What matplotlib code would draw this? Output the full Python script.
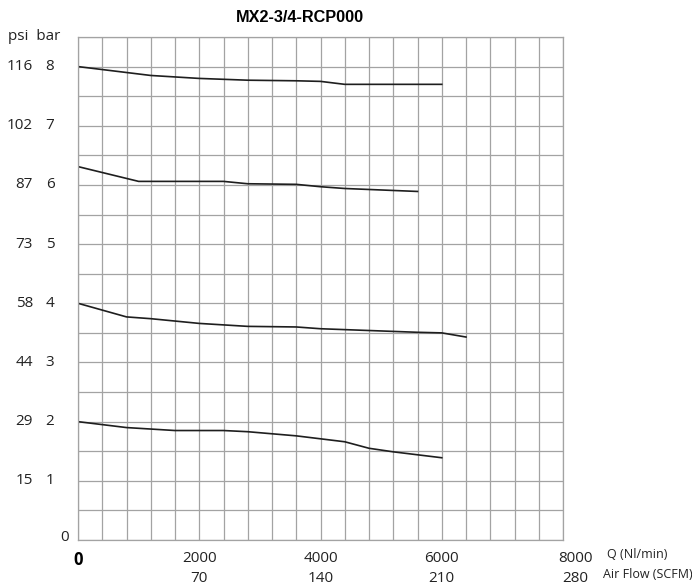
import numpy as np
import matplotlib.pyplot as plt
import matplotlib.transforms as mtransforms

# curves (Q in Nl/min, pressure in bar)
q_8 = [0, 800, 1200, 2000, 2800, 3600, 4000, 4400, 6000]
p_8 = [8.0, 7.9, 7.85, 7.80, 7.77, 7.76, 7.75, 7.70, 7.70]

q_6 = [0, 1000, 2400, 2800, 3600, 4000, 4400, 5600]
p_6 = [6.31, 6.06, 6.06, 6.02, 6.01, 5.97, 5.94, 5.89]

q_4 = [0, 800, 1200, 2000, 2800, 3600, 4000, 4800, 5600, 6000, 6400]
p_4 = [4.0, 3.77, 3.74, 3.66, 3.61, 3.60, 3.57, 3.54, 3.51, 3.50, 3.43]

q_2 = [0, 800, 1600, 2400, 2800, 3600, 4000, 4400, 4800, 5200, 6000]
p_2 = [2.0, 1.90, 1.85, 1.85, 1.83, 1.76, 1.71, 1.66, 1.55, 1.49, 1.39]

bar_ticks = [8, 7, 6, 5, 4, 3, 2, 1]
psi_ticks = ["116", "102", "87", "73", "58", "44", "29", "15"]
q_ticks = [2000, 4000, 6000, 8000]
scfm_ticks = ["70", "140", "210", "280"]

fig = plt.figure(figsize=(6.92, 5.87), dpi=100)
ax = fig.add_axes([78/692, 1-540/587, (563-78)/692, (540-37)/587])

ax.set_xlim(0, 8000)
ax.set_ylim(0, 8.5)
ax.set_xticks(np.arange(0, 8001, 400))
ax.set_yticks(np.arange(0, 8.51, 0.5))
ax.grid(True, color='#a3a3a3', linewidth=0.9)
ax.tick_params(length=0, labelbottom=False, labelleft=False)
for s in ax.spines.values():
    s.set_color('#a3a3a3')
    s.set_linewidth(0.9)

for q, p in [(q_8, p_8), (q_6, p_6), (q_4, p_4), (q_2, p_2)]:
    ax.plot(q, p, color='#1e1e1e', linewidth=1.2)

tf = 'Open Sans'
fs = 11
col = '#222222'
ytr = mtransforms.blended_transform_factory(fig.transFigure, ax.transData)
for b, psi in zip(bar_ticks, psi_ticks):
    ax.text(33/692, b, psi, transform=ytr, ha='right', va='center',
            fontsize=fs, family=tf, color=col)
    ax.text(50/692, b, str(b), transform=ytr, ha='center', va='center',
            fontsize=fs, family=tf, color=col)
ax.text(65/692, 0.05, "0", transform=ytr, ha='center', va='center',
        fontsize=fs, family=tf, color=col)
fig.text(34/692, 1-37/587, "psi  bar", ha='center', va='center',
         fontsize=fs, family=tf, color=col)

xtr = mtransforms.blended_transform_factory(ax.transData, fig.transFigure)
for q, s in zip(q_ticks, scfm_ticks):
    xo = 200 if q == 8000 else 0
    ax.text(q + xo, 1-558/587, str(q), transform=xtr, ha='center',
            va='center', fontsize=fs, family=tf, color=col)
    ax.text(q + xo, 1-578/587, s, transform=xtr, ha='center',
            va='center', fontsize=fs, family=tf, color=col)
ax.text(0, 1-560/587, "0", transform=xtr, ha='center', va='center',
        fontsize=12, family=tf, fontweight='bold', color='black')

fig.text(607/692, 1-555/587, "Q (Nl/min)", ha='left', va='center',
         fontsize=9, family=tf, color=col)
fig.text(603/692, 1-575/587, "Air Flow (SCFM)", ha='left', va='center',
         fontsize=9, family=tf, color=col)

fig.text(300/692, 1-17/587, "MX2-3/4-RCP000", ha='center', va='center',
         fontsize=11.7, family='Liberation Sans', fontweight='bold')

plt.savefig("out.png", dpi=100)
